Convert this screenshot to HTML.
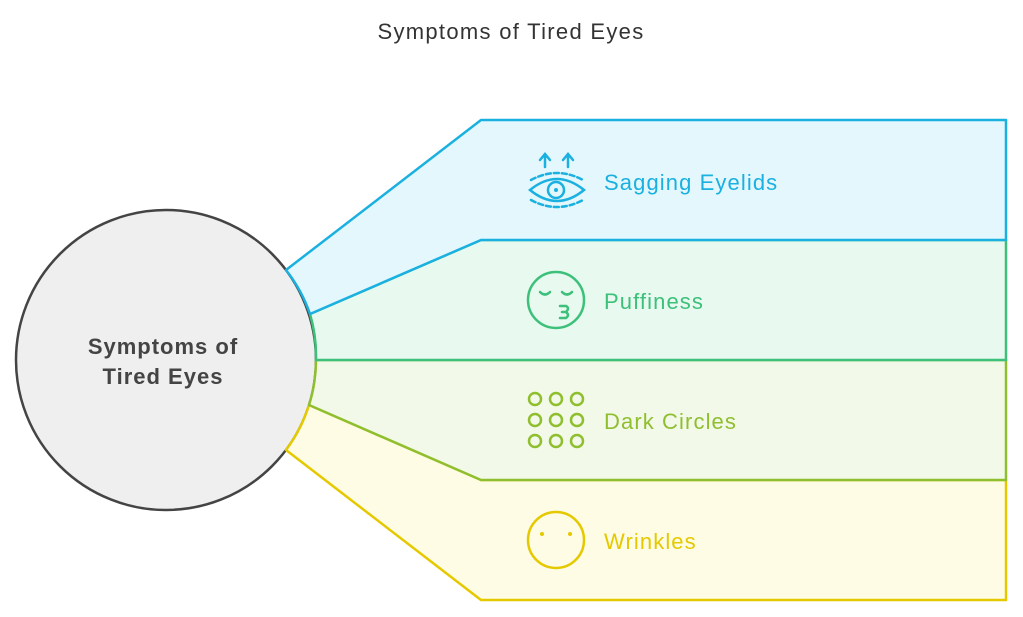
<!DOCTYPE html>
<html><head><meta charset="utf-8"><style>
body{margin:0;background:#fff;}
svg{display:block;font-family:"Liberation Sans",Arial,sans-serif;}
</style></head><body>
<svg width="1023" height="617" viewBox="0 0 1023 617" xmlns="http://www.w3.org/2000/svg">
<text x="511" y="39" text-anchor="middle" font-size="22" letter-spacing="1.3" fill="#333">Symptoms of Tired Eyes</text>
<circle cx="166" cy="360" r="150" fill="#efefef" stroke="#444" stroke-width="2.5"/>
<g stroke-width="2.5" stroke-linejoin="round">
<path d="M309,405 L481,480 L1006,480 L1006,600 L481,600 L286,450 A150,150 0 0 0 309,405 Z" fill="#fefce4" stroke="#e5c900"/>
<path d="M316,360 L1006,360 L1006,480 L481,480 L309,405 A150,150 0 0 0 316,360 Z" fill="#f3f9e8" stroke="#8fbf2f"/>
<path d="M310,314 L481,240 L1006,240 L1006,360 L316,360 A150,150 0 0 0 310,314 Z" fill="#e8f9f0" stroke="#3cc07a"/>
<path d="M286,270 L481,120 L1006,120 L1006,240 L481,240 L310,314 A150,150 0 0 0 286,270 Z" fill="#e3f7fd" stroke="#1ab0e0"/>
</g>
<text x="163" y="354" text-anchor="middle" font-size="22" font-weight="bold" letter-spacing="1" fill="#444">Symptoms of</text>
<text x="163" y="384" text-anchor="middle" font-size="22" font-weight="bold" letter-spacing="1" fill="#444">Tired Eyes</text>
<g stroke="#1ab0e0" stroke-width="2.5" fill="none" stroke-linecap="round">
<path d="M545,167 V155 M540,160 L545,154 L550,160 M568,167 V155 M563,160 L568,154 L573,160"/>
<path d="M530,190 Q557,168 584,190 Q557,212 530,190 Z"/>
<circle cx="556" cy="190" r="8"/>
<path d="M531,180 Q557,166 583,180" stroke-dasharray="5,3"/>
<path d="M531,200 Q557,214 583,200" stroke-dasharray="5,3"/>
</g>
<circle cx="556" cy="190" r="2" fill="#1ab0e0"/>
<text x="604" y="190" font-size="22" letter-spacing="1.1" fill="#1ab0e0">Sagging Eyelids</text>
<g stroke="#3cc07a" stroke-width="2.5" fill="none" stroke-linecap="round">
<circle cx="556" cy="300" r="28"/>
<path d="M540,292 Q545,297 550,292 M562,292 Q567,297 572,292"/>
<path d="M560,306 H566 Q570,308 566,312 H562 M566,312 Q570,315 566,318 H560"/>
</g>
<text x="604" y="309" font-size="22" letter-spacing="1.1" fill="#3cc07a">Puffiness</text>
<g stroke="#8fbf2f" stroke-width="2.5" fill="none">
<circle cx="535" cy="399" r="6"/><circle cx="556" cy="399" r="6"/><circle cx="577" cy="399" r="6"/>
<circle cx="535" cy="420" r="6"/><circle cx="556" cy="420" r="6"/><circle cx="577" cy="420" r="6"/>
<circle cx="535" cy="441" r="6"/><circle cx="556" cy="441" r="6"/><circle cx="577" cy="441" r="6"/>
</g>
<text x="604" y="429" font-size="22" letter-spacing="1.1" fill="#8fbf2f">Dark Circles</text>
<circle cx="556" cy="540" r="28" stroke="#e5c900" stroke-width="2.5" fill="none"/>
<circle cx="542" cy="534" r="2" fill="#e5c900"/><circle cx="570" cy="534" r="2" fill="#e5c900"/>
<text x="604" y="549" font-size="22" letter-spacing="1.1" fill="#e5c900">Wrinkles</text>
</svg>
</body></html>
